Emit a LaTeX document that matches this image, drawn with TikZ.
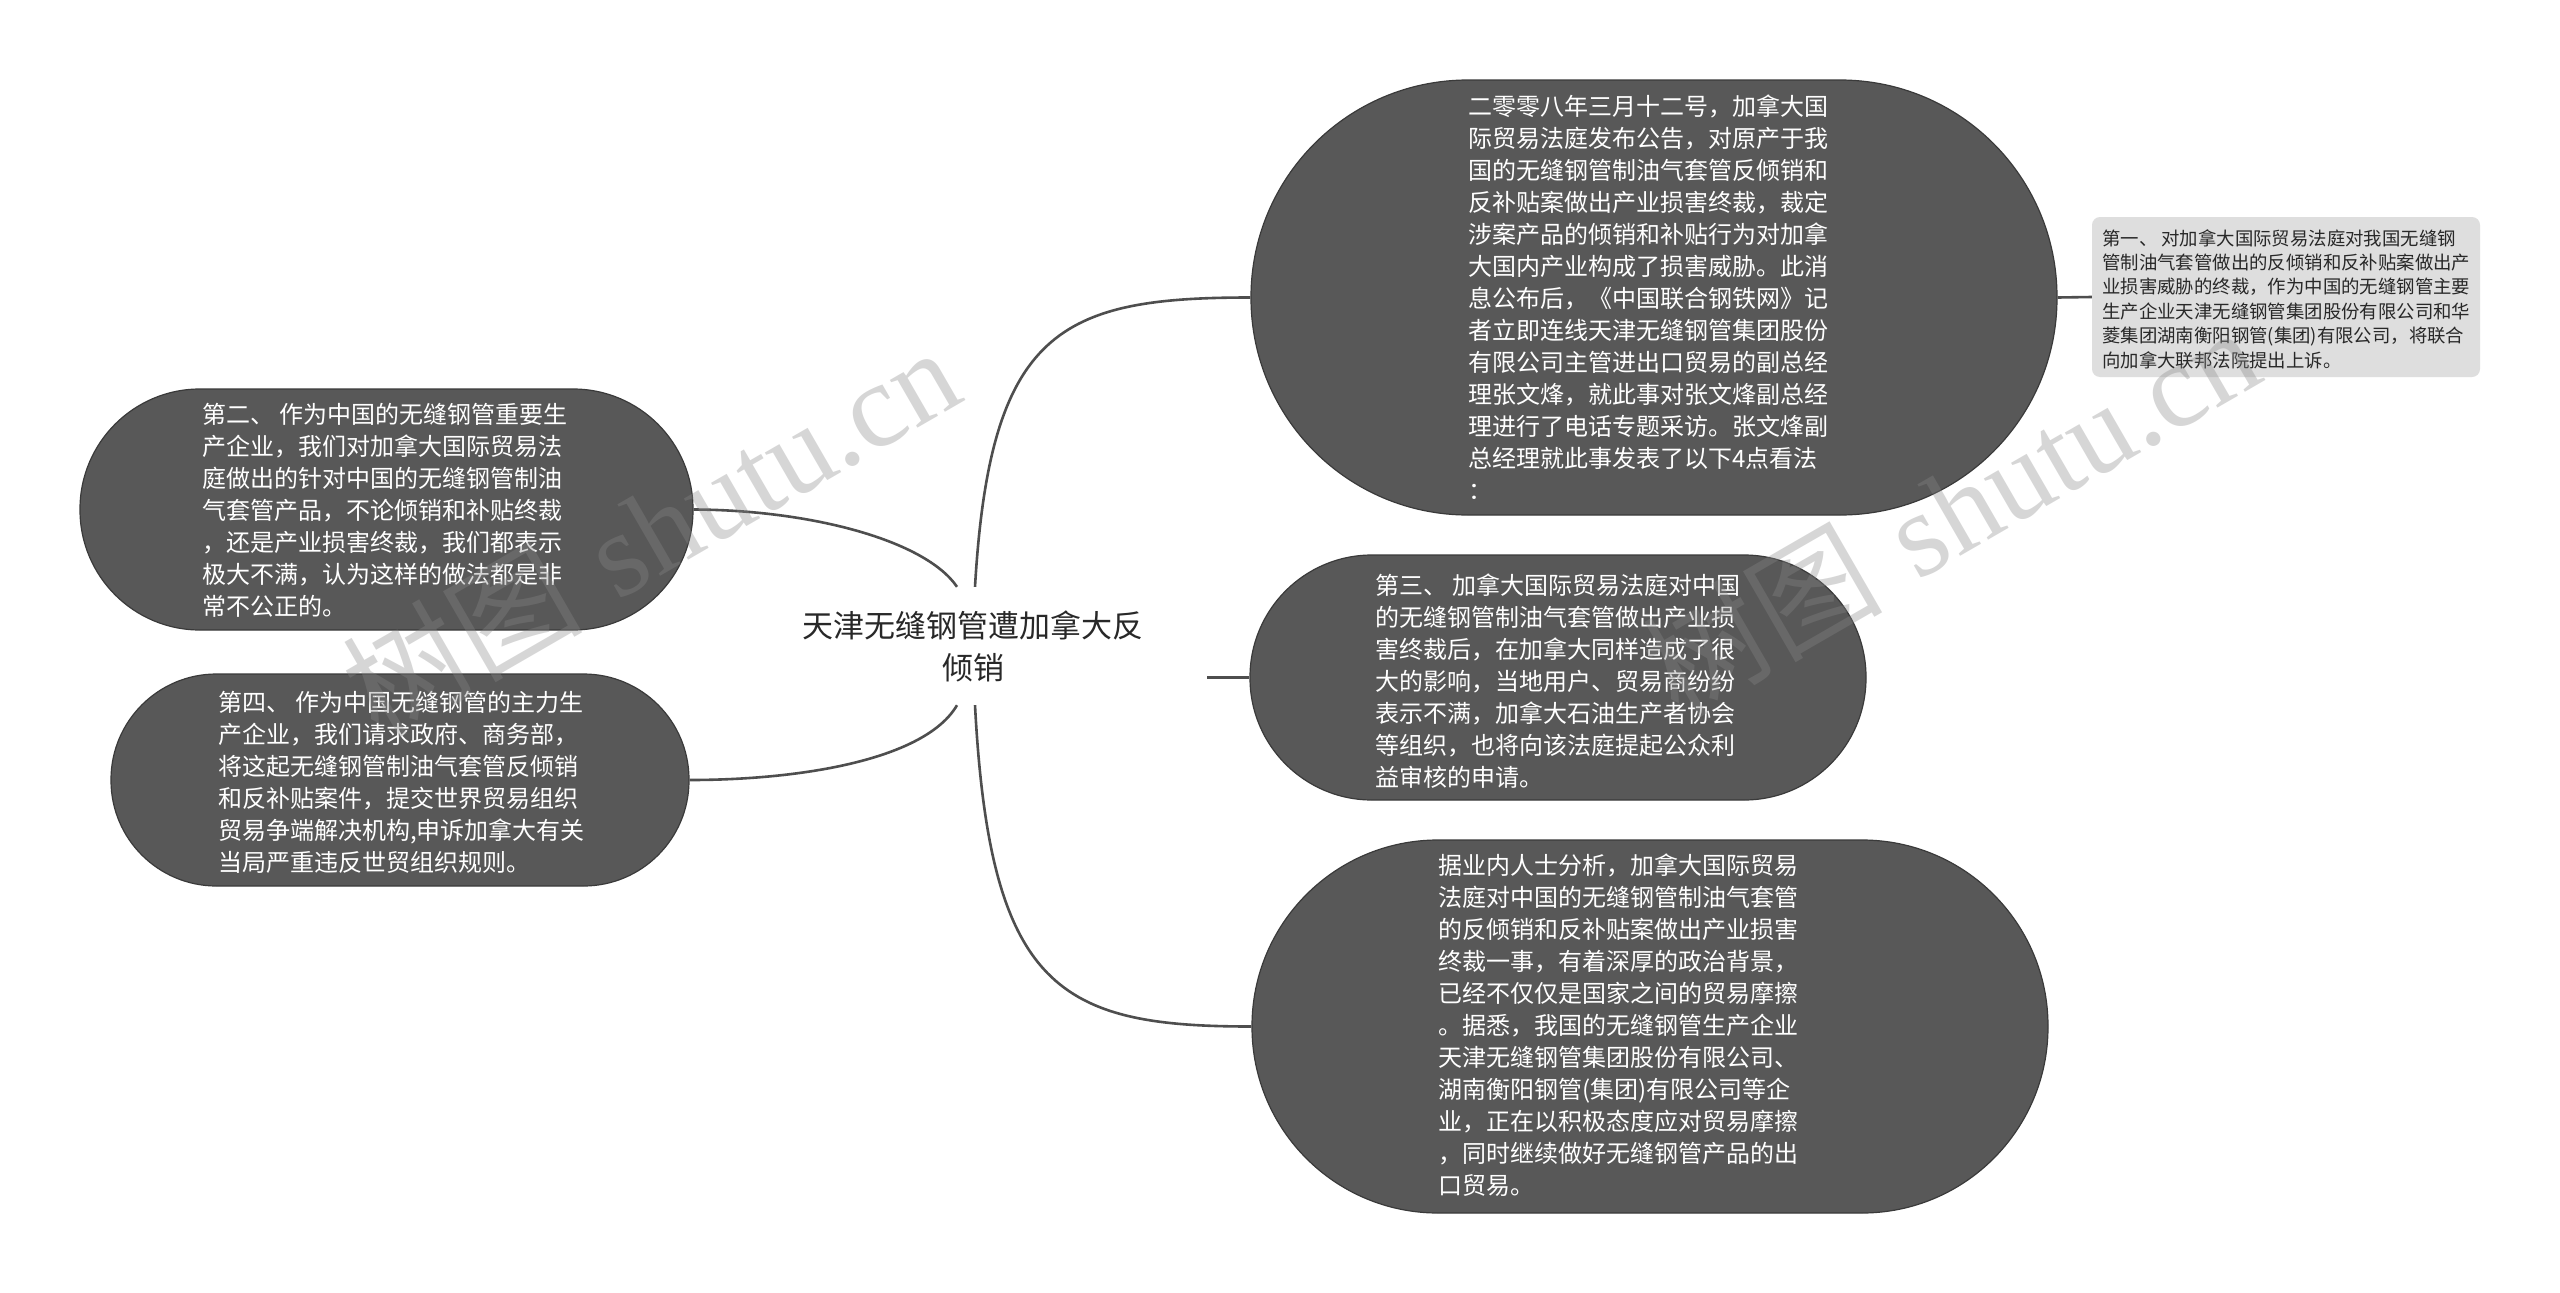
\documentclass[tikz,border=0pt]{standalone}
\usepackage{fontspec}
\newfontfamily\cjk{Noto Sans CJK SC}
\newfontfamily\wmserif{Liberation Serif}
\definecolor{nodebg}{RGB}{88,88,88}
\definecolor{nodeedge}{RGB}{58,58,58}
\definecolor{linkc}{RGB}{78,78,78}
\definecolor{leafbg}{RGB}{222,222,222}
\definecolor{darktext}{RGB}{40,40,40}
\definecolor{wmc}{RGB}{136,136,136}
\begin{document}
\begin{tikzpicture}[x=1pt,y=-1pt,
  pill/.style n args={3}{draw=nodeedge, line width=1.2pt, fill=nodebg, inner sep=0pt,
    minimum width=#1pt, minimum height=#2pt, rounded corners=#3pt},
  leafbox/.style={fill=leafbg, draw=none, inner sep=0pt, minimum width=388pt,
    minimum height=160pt, rounded corners=8pt},
  bodytxt/.style={font=\cjk\fontsize{24}{32}\selectfont, text=white, align=left,
    inner sep=0pt, anchor=west},
  leaftxt/.style={font=\cjk\fontsize{18.4}{24.4}\selectfont, text=darktext, align=left,
    inner sep=0pt, anchor=west},
  roottxt/.style={font=\cjk\fontsize{31}{42}\selectfont, text=darktext, align=center,
    inner sep=0pt, minimum width=468pt, minimum height=118pt},
  link/.style={draw=linkc, line width=2.6pt},
  wmark/.style={text=wmc, text opacity=0.34, inner sep=0pt, rotate=30,
    font=\fontsize{120}{130}\selectfont}
]
\useasboundingbox[fill=white] (0,0) rectangle (2560,1293);

% shapes
\node[pill={806}{435}{217}] (r1) at (1654,297.5) {};
\node[leafbox] (r2) at (2286,297) {};
\node[pill={616}{245}{122}] (r3) at (1558,677.5) {};
\node[pill={796}{373}{186}] (r4) at (1650,1026.5) {};
\node[pill={613}{241}{120}] (l1) at (386.5,509.5) {};
\node[pill={578}{212}{105.5}] (l2) at (400,780) {};

% central topic
\node[roottxt] (root) at (973,646) {天津无缝钢管遭加拿大反\\倾销};

% connectors
\draw[link] ([xshift=-16pt]root.north) .. controls (925,540) and (810,510) .. (l1.east);
\draw[link] ([xshift=-16pt]root.south) .. controls (925,760) and (800,780) .. (l2.east);
\draw[link] ([xshift=2pt]root.north) .. controls (990,330) and (1060,297.5) .. (r1.west);
\draw[link] ([xshift=2pt]root.south) .. controls (990,990) and (1060,1026.5) .. (r4.west);
\draw[link] (root.east |- r3.west) -- (r3.west);
\draw[link] (r1.east) -- (r2.west);

% texts
\node[bodytxt] (r1t) at (1468,297.5) {二零零八年三月十二号，加拿大国\\际贸易法庭发布公告，对原产于我\\国的无缝钢管制油气套管反倾销和\\反补贴案做出产业损害终裁，裁定\\涉案产品的倾销和补贴行为对加拿\\大国内产业构成了损害威胁。此消\\息公布后，《中国联合钢铁网》记\\者立即连线天津无缝钢管集团股份\\有限公司主管进出口贸易的副总经\\理张文烽，就此事对张文烽副总经\\理进行了电话专题采访。张文烽副\\总经理就此事发表了以下4点看法\\：};
\node[leaftxt] (r2t) at (2102,299) {第一、 对加拿大国际贸易法庭对我国无缝钢\\管制油气套管做出的反倾销和反补贴案做出产\\业损害威胁的终裁，作为中国的无缝钢管主要\\生产企业天津无缝钢管集团股份有限公司和华\\菱集团湖南衡阳钢管(集团)有限公司，将联合\\向加拿大联邦法院提出上诉。};
\node[bodytxt] (r3t) at (1375,681) {第三、 加拿大国际贸易法庭对中国\\的无缝钢管制油气套管做出产业损\\害终裁后，在加拿大同样造成了很\\大的影响，当地用户、贸易商纷纷\\表示不满，加拿大石油生产者协会\\等组织，也将向该法庭提起公众利\\益审核的申请。};
\node[bodytxt] (r4t) at (1438,1025.5) {据业内人士分析，加拿大国际贸易\\法庭对中国的无缝钢管制油气套管\\的反倾销和反补贴案做出产业损害\\终裁一事，有着深厚的政治背景，\\已经不仅仅是国家之间的贸易摩擦\\。据悉，我国的无缝钢管生产企业\\天津无缝钢管集团股份有限公司、\\湖南衡阳钢管(集团)有限公司等企\\业，正在以积极态度应对贸易摩擦\\，同时继续做好无缝钢管产品的出\\口贸易。};
\node[bodytxt] (l1t) at (202,510) {第二、 作为中国的无缝钢管重要生\\产企业，我们对加拿大国际贸易法\\庭做出的针对中国的无缝钢管制油\\气套管产品，不论倾销和补贴终裁\\，还是产业损害终裁，我们都表示\\极大不满，认为这样的做法都是非\\常不公正的。};
\node[bodytxt] (l2t) at (218,782) {第四、 作为中国无缝钢管的主力生\\产企业，我们请求政府、商务部，\\将这起无缝钢管制油气套管反倾销\\和反补贴案件，提交世界贸易组织\\贸易争端解决机构,申诉加拿大有关\\当局严重违反世贸组织规则。};

% watermarks
\node[wmark] (wm1) at (650,530) {{\cjk 树图} {\wmserif shutu.cn}};
\node[wmark] (wm2) at (1950,510) {{\cjk 树图} {\wmserif shutu.cn}};
\end{tikzpicture}
\end{document}
